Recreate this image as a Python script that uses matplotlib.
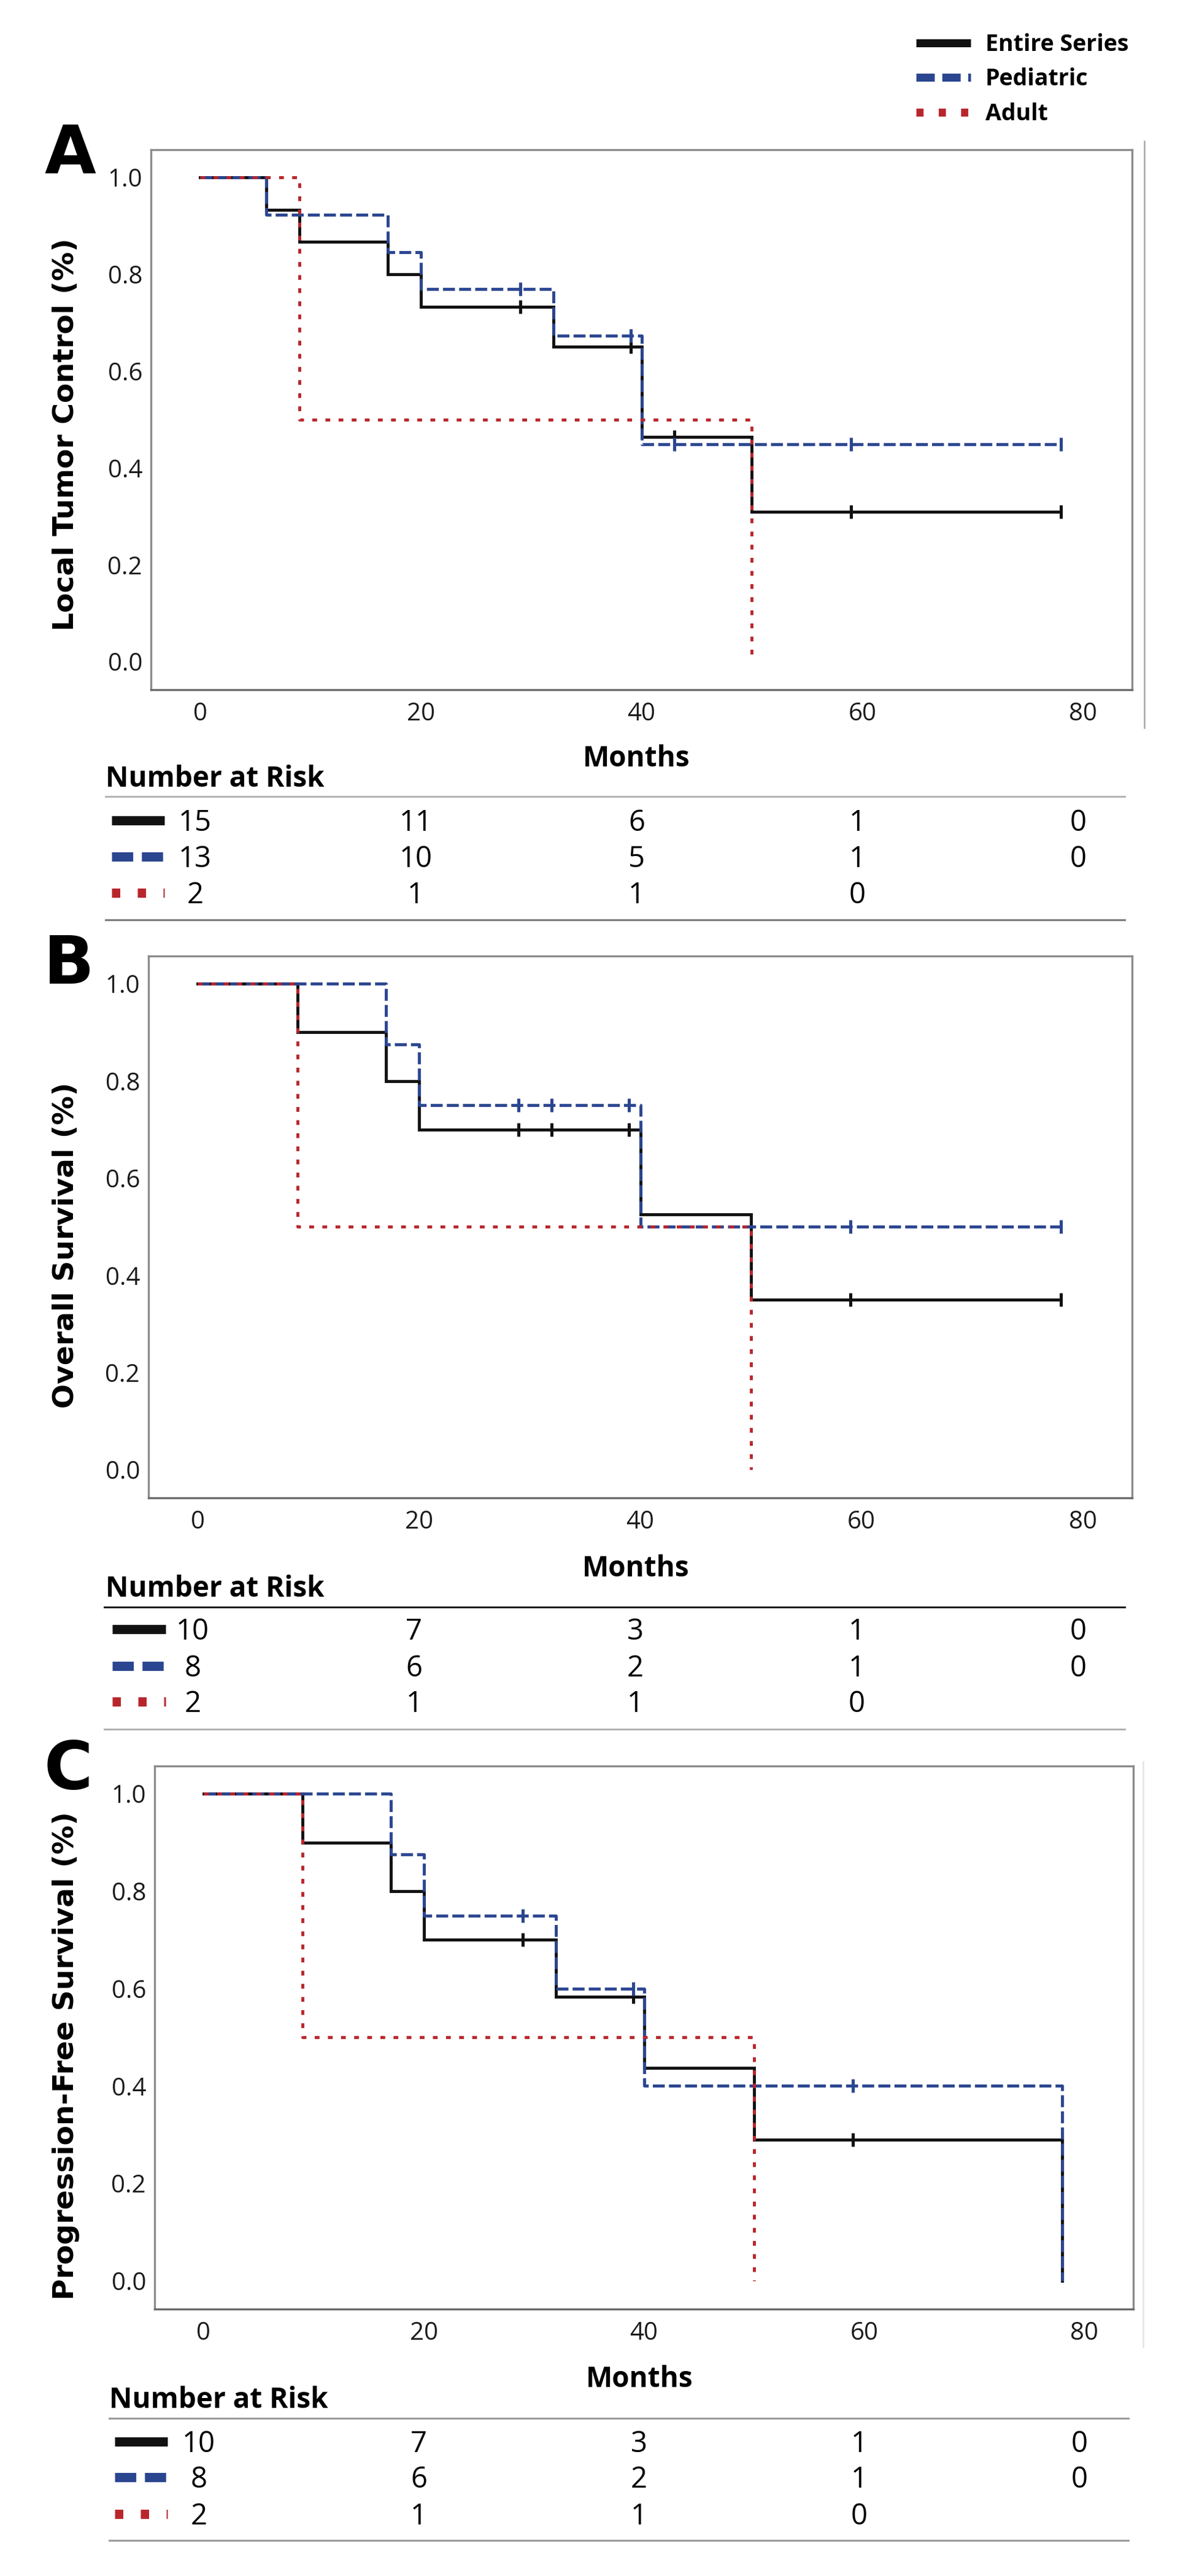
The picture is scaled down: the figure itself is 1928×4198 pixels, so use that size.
"""Kaplan-Meier curves (local control, OS, PFS) with number-at-risk tables."""

import numpy as np
import matplotlib
matplotlib.use('Agg')
import matplotlib.pyplot as plt
from matplotlib.transforms import blended_transform_factory

plt.rcParams['font.family'] = ['Open Sans', 'DejaVu Sans']

W, H, DPI = 1928, 4198, 100

SERIES = ['Entire Series', 'Pediatric', 'Adult']
MONTH_TICKS = [0, 20, 40, 60, 80]
Y_TICKS = [0.0, 0.2, 0.4, 0.6, 0.8, 1.0]

# panel A - local tumor control
a_all_t = [0, 6, 9, 17, 20, 32, 40, 50, 78]
a_all_s = [1.0, 0.933, 0.867, 0.800, 0.733, 0.650, 0.464, 0.310, 0.310]
a_all_c = [29, 39, 43, 59, 78]
a_ped_t = [0, 6, 17, 20, 32, 40, 78]
a_ped_s = [1.0, 0.923, 0.846, 0.769, 0.673, 0.449, 0.449]
a_ped_c = [29, 39, 43, 59, 78]
a_adu_t = [0, 9, 50]
a_adu_s = [1.0, 0.5, 0.0]
a_risk = [[15, 11, 6, 1, 0], [13, 10, 5, 1, 0], [2, 1, 1, 0]]

# panel B - overall survival
b_all_t = [0, 9, 17, 20, 40, 50, 78]
b_all_s = [1.0, 0.9, 0.8, 0.7, 0.525, 0.35, 0.35]
b_all_c = [29, 32, 39, 59, 78]
b_ped_t = [0, 17, 20, 40, 78]
b_ped_s = [1.0, 0.875, 0.75, 0.5, 0.5]
b_ped_c = [29, 32, 39, 59, 78]
b_adu_t = [0, 9, 50]
b_adu_s = [1.0, 0.5, 0.0]
b_risk = [[10, 7, 3, 1, 0], [8, 6, 2, 1, 0], [2, 1, 1, 0]]

# panel C - progression-free survival
c_all_t = [0, 9, 17, 20, 32, 40, 50, 78]
c_all_s = [1.0, 0.9, 0.8, 0.7, 0.583, 0.437, 0.29, 0.0]
c_all_c = [29, 39, 59]
c_ped_t = [0, 17, 20, 32, 40, 78]
c_ped_s = [1.0, 0.875, 0.75, 0.6, 0.4, 0.0]
c_ped_c = [29, 39, 59]
c_adu_t = [0, 9, 50]
c_adu_s = [1.0, 0.5, 0.0]
c_risk = [[10, 7, 3, 1, 0], [8, 6, 2, 1, 0], [2, 1, 1, 0]]

BLACK = '#111111'
BLUE = '#2b4690'
RED = '#b8262c'
STYLES = [
    dict(color=BLACK, dashes=None),
    dict(color=BLUE, dashes=(4.0, 1.4)),
    dict(color=RED, dashes=(1.6, 2.8)),
]
# table/legend key styles (thick lines)
KEYS = [
    dict(color=BLACK, dashes=None),
    dict(color=BLUE, dashes=(2.3, 0.95)),
    dict(color=RED, dashes=(0.9, 1.9)),
]

PANELS = [
    dict(letter='A', ylabel='Local Tumor Control (%)',
         curves=[(a_all_t, a_all_s, a_all_c), (a_ped_t, a_ped_s, a_ped_c),
                 (a_adu_t, a_adu_s, [])],
         risk=a_risk, box=(246, 244, 1845, 1124), let_xy=(114, 243),
         ylab_xy=(108, 708), months_xy=(1037, 1233), nar_xy=(172, 1266),
         lines=[(1298, '#b4b4b4'), (1499, '#7a7a7a')], line_x=(172, 1833),
         rows=[1337, 1396, 1455], key_x=(182, 268), edge=(1865, 230, 1186, '#a8a8a8')),
    dict(letter='B', ylabel='Overall Survival (%)',
         curves=[(b_all_t, b_all_s, b_all_c), (b_ped_t, b_ped_s, b_ped_c),
                 (b_adu_t, b_adu_s, [])],
         risk=b_risk, box=(242, 1558, 1845, 2441), let_xy=(112, 1564),
         ylab_xy=(108, 2029), months_xy=(1036, 2553), nar_xy=(172, 2586),
         lines=[(2619, '#222222'), (2818, '#b4b4b4')], line_x=(170, 1833),
         rows=[2655, 2715, 2773], key_x=(183, 270), edge=None),
    dict(letter='C', ylabel='Progression-Free Survival (%)',
         curves=[(c_all_t, c_all_s, c_all_c), (c_ped_t, c_ped_s, c_ped_c),
                 (c_adu_t, c_adu_s, [])],
         risk=c_risk, box=(252, 2878, 1847, 3763), let_xy=(111, 2876),
         ylab_xy=(108, 3350), months_xy=(1042, 3874), nar_xy=(178, 3908),
         lines=[(3941, '#9a9a9a'), (4140, '#9a9a9a')], line_x=(178, 1839),
         rows=[3979, 4037, 4097], key_x=(187, 273), edge=(1863, 2871, 3825, '#e4e4e4')),
]


def pt(px):
    return px * 72.0 / DPI


def caps_text(ax, x, y, s, size, **kw):
    """Place text so that the capital height is centred on y (pixels)."""
    size_px = size * DPI / 72.0
    return ax.text(x, y + 0.357 * size_px, s, fontsize=size, va='baseline', **kw)


def key_line(ax, x0, x1, y, style, lw_px):
    line, = ax.plot([x0, x1], [y, y], color=style['color'], lw=pt(lw_px),
                    solid_capstyle='butt', dash_capstyle='butt')
    if style['dashes']:
        line.set_dashes(style['dashes'])
    return line


def step_at(times, surv, when):
    idx = np.searchsorted(times, when, side='right') - 1
    return np.asarray(surv)[idx]


fig = plt.figure(figsize=(W / DPI, H / DPI), dpi=DPI)
ov = fig.add_axes([0, 0, 1, 1])
ov.set_xlim(0, W)
ov.set_ylim(H, 0)
ov.axis('off')

for p in PANELS:
    l, t, r, b = p['box']
    ax = fig.add_axes([l / W, 1 - b / H, (r - l) / W, (b - t) / H])
    for (times, surv, cens), st, z in zip(p['curves'], STYLES, [3, 4, 5]):
        line, = ax.step(times, surv, where='post', color=st['color'], lw=3.5,
                        zorder=z, dash_capstyle='butt', solid_joinstyle='miter')
        if st['dashes']:
            line.set_dashes(st['dashes'])
        if len(cens):
            ax.plot(cens, step_at(times, surv, cens), ls='none', marker='|',
                    ms=16, mew=3.6, color=st['color'], zorder=z)
    ax.set_xlim(-4.45, 84.45)
    ax.set_ylim(-0.058, 1.057)
    ax.set_xticks(MONTH_TICKS)
    ax.set_yticks(Y_TICKS)
    ax.set_yticklabels(['%.1f' % v for v in Y_TICKS])
    ax.tick_params(length=0, labelsize=29, colors='#1a1a1a')
    ax.tick_params(axis='x', pad=14)
    ax.tick_params(axis='y', pad=10)
    for side, sp in ax.spines.items():
        sp.set_color('#8c8c8c')
        sp.set_linewidth(2.4)
    ax.spines['bottom'].set_color('#6a6a6a')

    # panel letter, axis titles
    caps_text(ov, p['let_xy'][0], p['let_xy'][1], p['letter'], 78,
              ha='center', fontweight='bold', family='DejaVu Sans', color='black')
    ov.text(p['ylab_xy'][0], p['ylab_xy'][1], p['ylabel'], rotation=90,
            ha='center', va='center', fontsize=34, fontweight='bold',
            family='DejaVu Sans', color='black')
    caps_text(ov, p['months_xy'][0], p['months_xy'][1], 'Months', 33,
              ha='center', fontweight='bold', color='black')

    # number at risk table
    caps_text(ov, p['nar_xy'][0], p['nar_xy'][1], 'Number at Risk', 33,
              ha='left', fontweight='bold', color='black')
    for yy, col in p['lines']:
        ov.plot(p['line_x'], [yy, yy], color=col, lw=pt(3))
    tr = blended_transform_factory(ax.transData, ov.transData)
    for row_y, counts, ks in zip(p['rows'], p['risk'], KEYS):
        key_line(ov, p['key_x'][0], p['key_x'][1], row_y, ks, 15)
        for m, n in zip(MONTH_TICKS, counts):
            caps_text(ov, m - 0.45, row_y, str(n), 34, ha='center',
                      transform=tr, color='black')
    if p['edge']:
        ex, ey0, ey1, ecol = p['edge']
        ov.plot([ex, ex], [ey0, ey1], color=ecol, lw=pt(2.5))

# legend at the top right
for yy, name, ks in zip([70, 126, 183], SERIES, KEYS):
    key_line(ov, 1493, 1582, yy, ks, 13)
    caps_text(ov, 1606, yy, name, 27, ha='left', fontweight='bold', color='black')

fig.savefig('out.png', dpi=DPI)
